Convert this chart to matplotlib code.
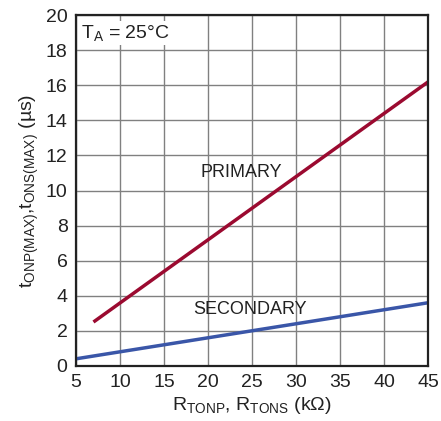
import numpy as np
import matplotlib.pyplot as plt

plt.rcParams['font.family'] = ['Liberation Sans', 'DejaVu Sans']
plt.rcParams['mathtext.fontset'] = 'custom'
plt.rcParams['mathtext.rm'] = 'Liberation Sans'
plt.rcParams['mathtext.it'] = 'Liberation Sans'
plt.rcParams['mathtext.default'] = 'regular'

# data
r_primary = [7, 45]
t_primary = [2.5, 16.2]
r_secondary = [5, 45]
t_secondary = [0.4, 3.6]

xticks = [5, 10, 15, 20, 25, 30, 35, 40, 45]
yticks = [0, 2, 4, 6, 8, 10, 12, 14, 16, 18, 20]

fig = plt.figure(figsize=(4.41, 4.21), dpi=100)
ax = fig.add_axes([0.172, 0.131, 0.799, 0.833])

ax.plot(r_primary, t_primary, color="#9b0a30", linewidth=2.5, solid_capstyle="butt")
ax.plot(r_secondary, t_secondary, color="#3a56a8", linewidth=2.5, solid_capstyle="butt")

ax.set_xlim(5, 45)
ax.set_ylim(0, 20)
ax.set_xticks(xticks)
ax.set_yticks(yticks)
ax.grid(color="#808080", linewidth=1.0)
ax.tick_params(length=0, labelsize=14, pad=6, colors="#222222")
for s in ax.spines.values():
    s.set_linewidth(1.6)
    s.set_color("#222222")

ax.text(23.8, 11.0, "PRIMARY", fontsize=13, ha="center", va="center", color="#222222")
ax.text(24.8, 3.2, "SECONDARY", fontsize=13, ha="center", va="center", color="#222222")
ax.text(5.6, 19.0, "$T_A$ = 25°C", fontsize=14, ha="left", va="center", color="#222222",
        bbox=dict(facecolor="white", edgecolor="none", pad=1.5))

ax.set_xlabel("$R_{TONP}$, $R_{TONS}$ (kΩ)", fontsize=14, color="#222222", labelpad=3)
ax.set_ylabel("$t_{ONP(MAX)}$,$t_{ONS(MAX)}$ (µs)", fontsize=14, color="#222222", labelpad=3)

plt.savefig("out.png", dpi=100)
plt.close()
